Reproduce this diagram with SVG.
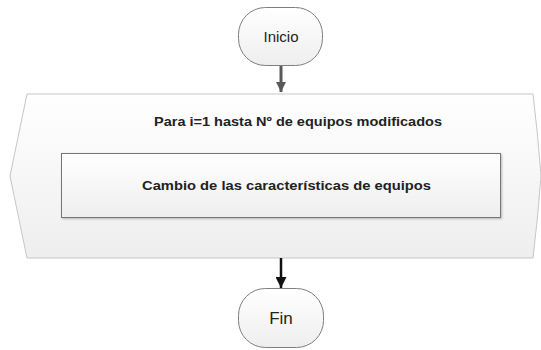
<svg xmlns="http://www.w3.org/2000/svg" width="541" height="350" viewBox="0 0 541 350">
<defs>
<linearGradient id="g" x1="0" y1="0" x2="0" y2="1">
<stop offset="0" stop-color="#ffffff"/><stop offset="1" stop-color="#eeeeee"/>
</linearGradient>
<marker id="ahg" viewBox="0 0 10 10" markerWidth="10" markerHeight="10" refX="10" refY="5" orient="auto" markerUnits="userSpaceOnUse"><path d="M0,0 L10,5 L0,10 z" fill="#595959"/></marker>
<marker id="ahb" viewBox="0 0 10 10" markerWidth="11" markerHeight="11" refX="10" refY="5" orient="auto" markerUnits="userSpaceOnUse"><path d="M0,0 L10,5 L0,10 z" fill="#111"/></marker>
<filter id="sh" x="-5%" y="-5%" width="110%" height="120%"><feDropShadow dx="1" dy="1" stdDeviation="0.8" flood-color="#000" flood-opacity="0.25"/></filter>
</defs>
<style>
.term{fill:url(#g);stroke:#7f7f7f;stroke-width:1}
.t{font-family:"Liberation Sans",Arial,sans-serif;fill:#222;text-anchor:middle}
.b{font-weight:bold;font-size:13.5px}
</style>
<g id="loop">
<path d="M27,94 L533,94 Q538,135 541,176 Q538,217 533,258 L27,258 L10,176 Z" fill="url(#g)" stroke="#c6c6c6" stroke-width="1"/>
<text class="t b" x="298" y="126" textLength="288" lengthAdjust="spacingAndGlyphs">Para i=1 hasta Nº de equipos modificados</text>
</g>
<g id="cambio">
<rect x="61.5" y="153.5" width="439" height="64" fill="url(#g)" stroke="#767676" stroke-width="1" filter="url(#sh)"/>
<text class="t b" x="286.5" y="190" textLength="289" lengthAdjust="spacingAndGlyphs">Cambio de las características de equipos</text>
</g>
<g id="inicio">
<rect x="238.5" y="7.5" width="84" height="58" rx="27" ry="27" class="term"/>
<text class="t" x="281" y="42" font-size="15">Inicio</text>
</g>
<g id="fin">
<rect x="238.5" y="288.5" width="85" height="59" rx="27" ry="27" class="term"/>
<text class="t" x="281" y="324" font-size="17">Fin</text>
</g>
<g id="connectors">
<line x1="281" y1="66" x2="281" y2="92" stroke="#595959" stroke-width="3" marker-end="url(#ahg)"/>
<line x1="281" y1="258" x2="281" y2="288" stroke="#111" stroke-width="2.5" marker-end="url(#ahb)"/>
</g>
</svg>
